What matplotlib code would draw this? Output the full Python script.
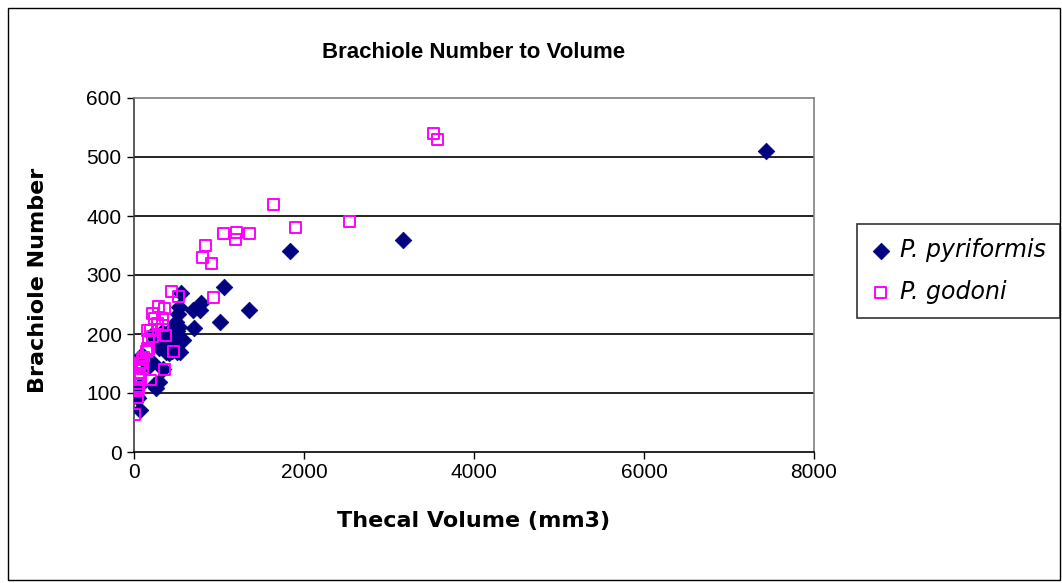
import matplotlib
matplotlib.use("Agg")
import matplotlib.pyplot as plt
from matplotlib.patches import Rectangle

plt.rcParams['font.family'] = ['Liberation Sans', 'DejaVu Sans']

# P. pyriformis: thecal volume (mm3) and brachiole count
pyr_volume = [7440, 3160, 1840, 1060, 1350, 1010, 790, 690, 780, 710,
              550, 530, 515, 490, 527, 475, 555, 577, 497, 430,
              332, 379, 450, 540, 410, 505, 330, 290, 250, 210,
              340, 292, 233, 260, 96, 135, 214, 130, 171, 50,
              38, 57, 65, 505, 450, 570]
pyr_brachioles = [510, 360, 340, 280, 240, 220, 252, 240, 240, 210,
                  270, 246, 234, 221, 212, 210, 192, 189, 181, 191,
                  203, 170, 172, 170, 167, 170, 178, 177, 186, 198,
                  140, 119, 113, 108, 164, 158, 153, 152, 145, 92,
                  93, 112, 72, 205, 211, 190]

# P. godoni: thecal volume (mm3) and brachiole count
god_volume = [3520, 3570, 1640, 2530, 1900, 1050, 1210, 1190, 1360, 840,
              810, 910, 930, 440, 520, 290, 360, 215, 245, 332,
              273, 339, 194, 214, 174, 155, 460, 360, 190, 10,
              174, 116, 77, 96, 57, 77, 38, 57, 38, 370,
              163, 143, 104, 65, 65, 45]
god_brachioles = [540, 530, 420, 390, 380, 370, 372, 360, 370, 350,
                  330, 320, 262, 272, 263, 246, 243, 235, 226, 226,
                  218, 215, 206, 195, 190, 176, 170, 140, 122, 63,
                  173, 161, 150, 142, 133, 125, 116, 108, 93, 198,
                  206, 170, 156, 145, 128, 105]

x_ticks = [0, 2000, 4000, 6000, 8000]
y_ticks = [0, 100, 200, 300, 400, 500, 600]

fig = plt.figure(figsize=(10.62, 5.83), dpi=100)
fig.patch.set_facecolor('white')

# chart area frame
fig.patches.append(Rectangle((8 / 1062, 3 / 583), 1052 / 1062, 572 / 583,
                             transform=fig.transFigure, fill=False,
                             edgecolor='black', linewidth=1.0))

ax = fig.add_axes([134 / 1062, 131 / 583, 680 / 1062, 354 / 583])
ax.set_xlim(0, 8000)
ax.set_ylim(0, 600)
ax.set_xticks(x_ticks)
ax.set_yticks(y_ticks)
ax.tick_params(axis='both', labelsize=15, direction='out', length=5,
               width=1, color='black')
ax.tick_params(axis='y', pad=4)
ax.tick_params(axis='x', pad=3)

for y in y_ticks[1:-1]:
    ax.axhline(y, color='black', linewidth=1.2, zorder=1)

for side in ('top', 'right'):
    ax.spines[side].set_color('#808080')
    ax.spines[side].set_linewidth(1.2)
ax.spines['left'].set_color('#404040')
ax.spines['left'].set_linewidth(1.2)
ax.spines['bottom'].set_color('black')
ax.spines['bottom'].set_linewidth(1.2)

ax.scatter(pyr_volume, pyr_brachioles, marker='D', s=72,
           color='#000080', edgecolors='#000080', linewidths=0.5,
           zorder=3, label='P. pyriformis')
ax.scatter(god_volume, god_brachioles, marker='s', s=62,
           facecolors='none', edgecolors='#FF00FF', linewidths=1.4,
           zorder=4, label='P. godoni')

fig.text(474 / 1062, 1 - 52 / 583, 'Brachiole Number to Volume',
         ha='center', va='center', fontsize=16, fontweight='bold')
fig.text(474 / 1062, 1 - 521 / 583, 'Thecal Volume (mm3)',
         ha='center', va='center', fontsize=16, fontweight='bold',
         family='DejaVu Sans')
fig.text(38 / 1062, 1 - 280 / 583, 'Brachiole Number', rotation=90,
         ha='center', va='center', fontsize=16, fontweight='bold',
         family='DejaVu Sans')

leg = ax.legend(loc='upper left', bbox_to_anchor=(857 / 1062, 1 - 224 / 583),
                bbox_transform=fig.transFigure, frameon=True, fancybox=False,
                prop={'style': 'italic', 'size': 17, 'family': 'DejaVu Sans'},
                handletextpad=0.4, borderpad=0.6, labelspacing=0.75,
                handlelength=0.8, borderaxespad=0)
leg.get_frame().set_edgecolor('black')
leg.get_frame().set_linewidth(1.2)

fig.savefig('out.png', dpi=100, facecolor='white')
